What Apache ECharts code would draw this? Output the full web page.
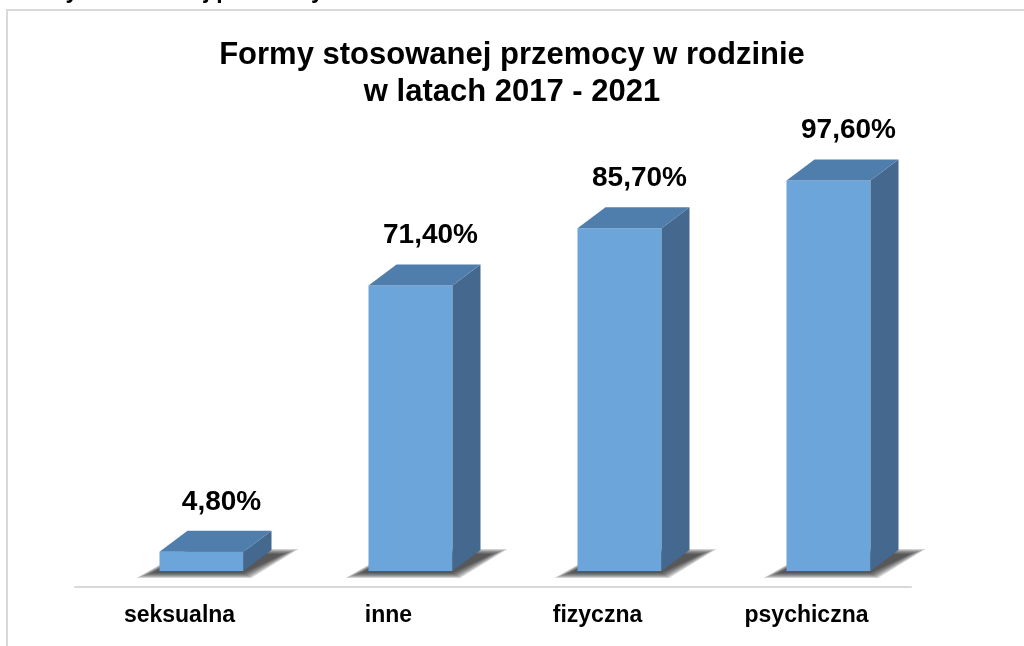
<!DOCTYPE html>
<html lang="pl" style="height: 100%">

<head>
  <meta charset="utf-8">
  <style>
    body {
      height: 100%;
      margin: 0;
      background: #fff;
    }

    #chart {
      width: 1024px;
      height: 646px;
    }
  </style>
</head>

<body>
  <div id="chart"></div>
  <script type="text/javascript" src="https://cdn.jsdelivr.net/npm/echarts@6/dist/echarts.min.js"></script>
  <script type="text/javascript">
    // formy przemocy
    const categories = ['seksualna', 'inne', 'fizyczna', 'psychiczna'];
    // udzial procentowy
    const values = [4.8, 71.4, 85.7, 97.6];

    const FONT = '"Liberation Sans", Arial, sans-serif';
    const DX = 28;   // glebokosc slupka w poziomie
    const DY = -21;  // glebokosc slupka w pionie

    var chart = echarts.init(document.getElementById('chart'), null, { renderer: 'canvas' });

    function renderBar(params, api) {
      var idx = api.value(0);
      var top = api.coord([idx, api.value(1)]);
      var base = api.coord([idx, 0]);
      var w = 84;
      var x0 = top[0] - 20;
      var x1 = x0 + w;
      var yt = top[1];
      var yb = base[1];
      var label = api.value(1).toFixed(2).replace('.', ',') + '%';
      var children = [];
      // miekki cien - kilka warstw o rosnacym rozmiarze
      for (var k = 5; k >= 0; k--) {
        var e = k * 3;
        children.push({
          type: 'polygon',
          shape: {
            points: [
              [x0 - 8 - e, yb + 2 + e / 3],
              [x1 + e / 2, yb + 2 + e / 3],
              [x1 + DX + 12 + e, yb + DY + 4 - e / 3],
              [x0 + DX, yb + DY + 4 - e / 3]
            ]
          },
          style: { fill: 'rgba(30,30,30,0.2)' },
          z2: 1
        });
      }
      children.push(
        {
          type: 'rect',
          shape: { x: x0, y: yt, width: w, height: yb - yt },
          style: { fill: '#6ba5d9' },
          z2: 3
        },
        {
          type: 'polygon',
          shape: { points: [[x1, yt], [x1 + DX, yt + DY], [x1 + DX, yb + DY], [x1, yb]] },
          style: { fill: '#44688e' },
          z2: 3
        },
        {
          type: 'polygon',
          shape: { points: [[x0, yt], [x0 + DX, yt + DY], [x1 + DX, yt + DY], [x1, yt]] },
          style: { fill: '#4f7eac' },
          z2: 3
        },
        {
          type: 'text',
          style: {
            x: x0 + w / 2 + 20,
            y: yt + DY - 29,
            text: label,
            fill: '#000',
            font: 'bold 28px ' + FONT,
            align: 'center',
            verticalAlign: 'middle'
          },
          z2: 4
        }
      );
      return { type: 'group', children: children };
    }

    var option = {
      backgroundColor: '#fff',
      animation: false,
      title: {
        text: 'Formy stosowanej przemocy w rodzinie\nw latach 2017 - 2021',
        left: 'center',
        top: 32,
        textStyle: {
          fontFamily: FONT,
          fontWeight: 'bold',
          fontSize: 31,
          lineHeight: 37,
          color: '#000'
        }
      },
      graphic: [
        {
          type: 'text',
          left: 8,
          top: -20,
          style: {
            text: 'Formy stosowanej przemocy w rodzinie w latach 2017 - 2021',
            font: 'bold 23px ' + FONT,
            fill: '#000'
          }
        },
        {
          type: 'polyline',
          shape: { points: [[7, 700], [7, 10], [1030, 10]] },
          style: { stroke: '#d9d9d9', lineWidth: 2, fill: null }
        }
      ],
      grid: {
        left: 75,
        right: 113,
        top: 171,
        bottom: 75
      },
      xAxis: {
        type: 'category',
        data: categories,
        offset: 16,
        axisLine: { onZero: false, lineStyle: { color: '#d9d9d9', width: 2 } },
        axisTick: { show: false },
        axisLabel: {
          margin: 17,
          color: '#000',
          fontFamily: FONT,
          fontWeight: 'bold',
          fontSize: 23
        }
      },
      yAxis: {
        type: 'value',
        min: 0,
        max: 100,
        show: false
      },
      series: [
        {
          type: 'custom',
          renderItem: renderBar,
          data: values.map(function (v, i) { return [i, v]; })
        }
      ]
    };

    chart.setOption(option);
  </script>
</body>

</html>
